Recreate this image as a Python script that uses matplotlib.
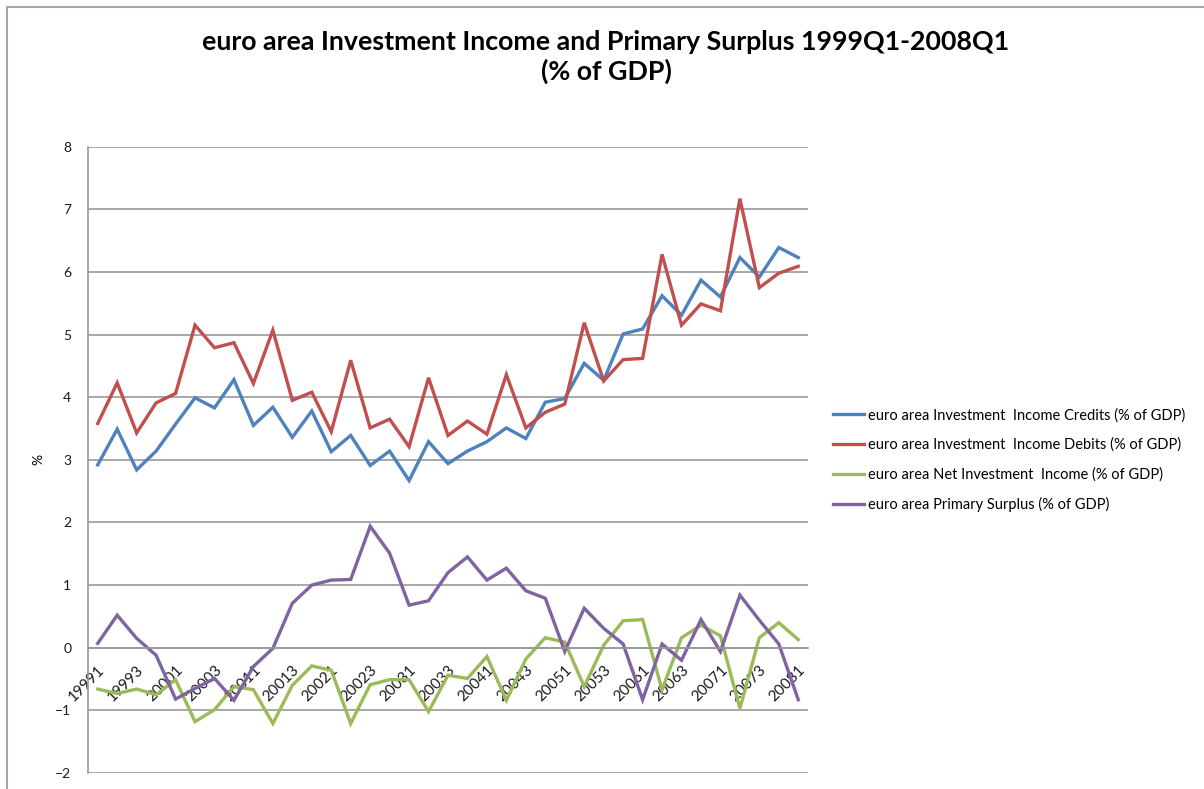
import matplotlib
matplotlib.use("Agg")
import matplotlib.pyplot as plt
from matplotlib.patches import Rectangle

# ---- data ----
years = [1999, 2000, 2001, 2002, 2003, 2004, 2005, 2006, 2007, 2008]
quarters = [f"{y}{q}" for y in years for q in (1, 2, 3, 4)][:37]

credits = [2.92, 3.49, 2.84, 3.14, 3.57, 3.99, 3.83, 4.28, 3.55, 3.84,
           3.36, 3.78, 3.13, 3.39, 2.91, 3.14, 2.67, 3.29, 2.94, 3.14,
           3.29, 3.51, 3.34, 3.92, 3.98, 4.54, 4.27, 5.01, 5.09, 5.62,
           5.31, 5.87, 5.60, 6.23, 5.92, 6.39, 6.23]
debits = [3.58, 4.23, 3.43, 3.91, 4.06, 5.15, 4.79, 4.87, 4.22, 5.07,
          3.95, 4.08, 3.45, 4.59, 3.51, 3.65, 3.21, 4.31, 3.39, 3.62,
          3.41, 4.36, 3.51, 3.76, 3.89, 5.19, 4.26, 4.60, 4.62, 6.28,
          5.15, 5.49, 5.38, 7.17, 5.75, 5.98, 6.09]
net = [-0.66, -0.73, -0.66, -0.75, -0.51, -1.18, -0.99, -0.62, -0.67, -1.21,
       -0.60, -0.29, -0.36, -1.21, -0.59, -0.51, -0.51, -1.02, -0.44, -0.49,
       -0.14, -0.84, -0.18, 0.16, 0.09, -0.62, 0.04, 0.43, 0.45, -0.67,
       0.16, 0.36, 0.19, -0.97, 0.16, 0.40, 0.13]
primary = [0.07, 0.52, 0.15, -0.12, -0.82, -0.65, -0.49, -0.84, -0.30, -0.01,
           0.71, 1.00, 1.08, 1.09, 1.94, 1.51, 0.68, 0.75, 1.20, 1.45,
           1.08, 1.27, 0.91, 0.79, -0.06, 0.63, 0.31, 0.06, -0.83, 0.06,
           -0.20, 0.45, -0.06, 0.84, 0.44, 0.06, -0.83]

series_names = ["euro area Investment  Income Credits (% of GDP)",
                "euro area Investment  Income Debits (% of GDP)",
                "euro area Net Investment  Income (% of GDP)",
                "euro area Primary Surplus (% of GDP)"]
colors = ["#4F81BD", "#C0504D", "#9BBB59", "#8064A2"]

title = "euro area Investment Income and Primary Surplus 1999Q1-2008Q1\n(% of GDP)"
yticks = [-2, -1, 0, 1, 2, 3, 4, 5, 6, 7, 8]

# ---- figure ----
plt.rcParams['font.family'] = ['Lato', 'DejaVu Sans']
W, H = 1204, 789
fig = plt.figure(figsize=(W / 100, H / 100), dpi=100)

# chart-area border
fig.patches.append(Rectangle((7 / W, -0.05), 1.2, 1 - 7 / H + 0.05,
                             transform=fig.transFigure, fill=False,
                             edgecolor="#A6A6A6", linewidth=1.5))

ax = fig.add_axes([88 / W, 16 / H, 720 / W, (773 - 146.7) / H])
x = list(range(len(quarters)))
for vals, name, c in zip([credits, debits, net, primary], series_names, colors):
    ax.plot(x, vals, color=c, linewidth=2.4, label=name, solid_joinstyle='miter')

ax.set_xlim(-0.5, len(quarters) - 0.5)
ax.set_ylim(-2, 8)
ax.set_yticks(yticks)
ax.yaxis.grid(True, color="#999999", linewidth=1.2)
ax.set_axisbelow(True)

for s in ("top", "right"):
    ax.spines[s].set_visible(False)
ax.spines["left"].set_color("#999999")
ax.spines["left"].set_linewidth(1.2)
ax.spines["bottom"].set_position(("data", 0))
ax.spines["bottom"].set_color("#999999")
ax.spines["bottom"].set_linewidth(1.2)

ax.set_xticks(x[::2])
ax.set_xticklabels(quarters[::2], rotation=45, ha="right", va="top",
                   rotation_mode="anchor", fontsize=11, color="#1a1a1a")
ax.tick_params(axis="x", length=0, pad=11)
ax.tick_params(axis="y", length=0, pad=12, labelsize=10, labelcolor="#1a1a1a")

ax.set_ylabel("%", fontsize=10, labelpad=8)

fig.text(606 / W, 1 - 57 / H, title, ha="center", va="center",
         fontsize=19.3, fontweight="bold", linespacing=1.25)

fig.legend(loc="center left", bbox_to_anchor=(833 / W, 1 - 460 / H),
           frameon=False, fontsize=10.5, handlelength=2.1, handletextpad=0.3,
           labelspacing=1.05, borderpad=0, borderaxespad=0)

fig.savefig("out.png", dpi=100)
